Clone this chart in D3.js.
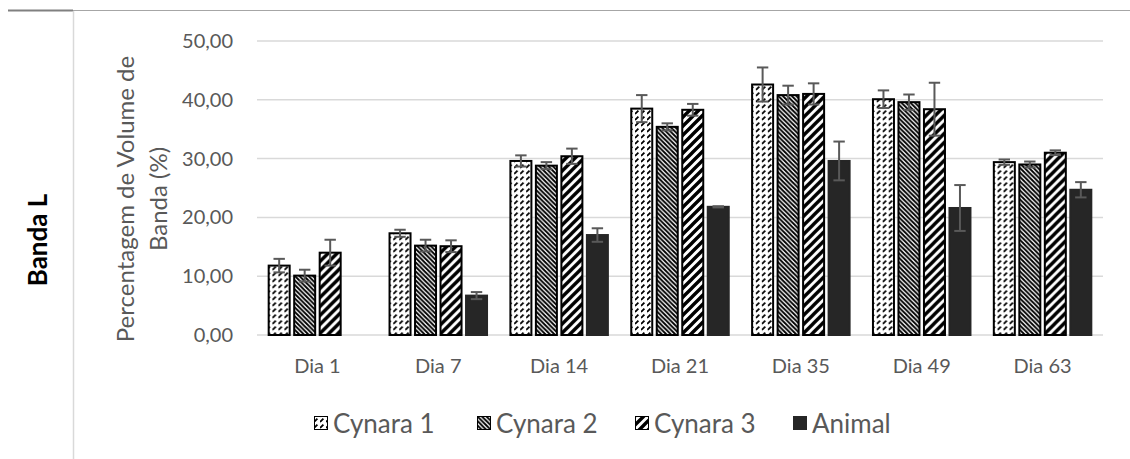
<!DOCTYPE html>
<html>
<head>
<meta charset="utf-8">
<script src="https://cdn.jsdelivr.net/npm/d3@7"></script>
<style>
  body { margin: 0; background: #fff; }
  svg { display: block; }
</style>
</head>
<body>
<div id="viz"></div>
<script>
const days = ["Dia 1", "Dia 7", "Dia 14", "Dia 21", "Dia 35", "Dia 49", "Dia 63"];
const seriesNames = ["Cynara 1", "Cynara 2", "Cynara 3", "Animal"];

// means, one array per series (Animal has no value on Dia 1)
const cynara1 = [11.8, 17.3, 29.6, 38.5, 42.6, 40.1, 29.4];
const cynara2 = [10.1, 15.2, 28.8, 35.4, 40.8, 39.6, 29.0];
const cynara3 = [14.0, 15.1, 30.4, 38.3, 41.0, 38.4, 31.0];
const animal = [null, 6.7, 17.0, 21.8, 29.6, 21.6, 24.7];

// error (+/-)
const cynara1Err = [1.15, 0.6, 0.95, 2.3, 2.9, 1.5, 0.45];
const cynara2Err = [1.0, 1.0, 0.6, 0.6, 1.6, 1.3, 0.5];
const cynara3Err = [2.2, 1.0, 1.3, 1.0, 1.8, 4.5, 0.4];
const animalErr = [null, 0.6, 1.15, 0.1, 3.3, 3.9, 1.3];

const yTicks = [0, 10, 20, 30, 40, 50];

const width = 1130;
const height = 459;
const margin = { top: 41, right: 27, bottom: 124, left: 257 };
const textGray = "#595959";
const font = "Lato, 'Open Sans', sans-serif";

const svg = d3.select("#viz")
    .append("svg")
    .attr("width", width)
    .attr("height", height)
    .style("font-family", font);

//Patterns
const defs = svg.append("defs");

const p1 = defs.append("pattern").attr("id", "pat1").attr("patternUnits", "userSpaceOnUse")
    .attr("width", 6).attr("height", 6);
p1.append("rect").attr("width", 6).attr("height", 6).attr("fill", "#fff");
p1.append("path").attr("d", "M0,6 L3.4,2.6 M6,0 L6.5,-0.5 M-0.5,0.5 L0,0").attr("stroke", "#000").attr("stroke-width", 1.8);

const p2 = defs.append("pattern").attr("id", "pat2").attr("patternUnits", "userSpaceOnUse")
    .attr("width", 4.5).attr("height", 4.5);
p2.append("rect").attr("width", 4.5).attr("height", 4.5).attr("fill", "#fff");
p2.append("path").attr("d", "M-1,-1 L5.5,5.5 M-1,3.5 L1,5.5 M3.5,-1 L5.5,1").attr("stroke", "#000").attr("stroke-width", 1.9);

const p3 = defs.append("pattern").attr("id", "pat3").attr("patternUnits", "userSpaceOnUse")
    .attr("width", 9).attr("height", 9);
p3.append("rect").attr("width", 9).attr("height", 9).attr("fill", "#fff");
p3.append("path").attr("d", "M-1,10 L10,-1 M-2,2 L2,-2 M7,11 L11,7").attr("stroke", "#000").attr("stroke-width", 3.4);

const fills = ["url(#pat1)", "url(#pat2)", "url(#pat3)", "#262626"];
const strokes = ["#000", "#000", "#000", "#262626"];

const data = days.map((day, i) => ({
    day,
    values: [
        { s: 0, v: cynara1[i], e: cynara1Err[i] },
        { s: 1, v: cynara2[i], e: cynara2Err[i] },
        { s: 2, v: cynara3[i], e: cynara3Err[i] },
        { s: 3, v: animal[i], e: animalErr[i] }
    ]
}));

//Frame lines
svg.append("line").attr("x1", 8).attr("x2", 73).attr("y1", 10.5).attr("y2", 10.5)
    .attr("stroke", "#808080").attr("stroke-width", 2);
svg.append("line").attr("x1", 73).attr("x2", width).attr("y1", 10.5).attr("y2", 10.5)
    .attr("stroke", "#a6a6a6").attr("stroke-width", 1);
svg.append("line").attr("x1", 73.5).attr("x2", 73.5).attr("y1", 11).attr("y2", height)
    .attr("stroke", "#d9d9d9").attr("stroke-width", 1.5);

const x0 = d3.scaleBand()
    .domain(days)
    .range([margin.left, width - margin.right])
    .paddingInner(0.156)
    .paddingOuter(0.078);

const x1 = d3.scaleBand()
    .domain(d3.range(seriesNames.length))
    .range([0, x0.bandwidth()]);

const y = d3.scaleLinear()
    .domain([0, 50])
    .range([height - margin.bottom, margin.top]);

//Gridlines
svg.append("g")
    .selectAll("line")
    .data(yTicks)
    .join("line")
    .attr("x1", margin.left)
    .attr("x2", width - margin.right)
    .attr("y1", d => y(d))
    .attr("y2", d => y(d))
    .attr("stroke", "#d9d9d9")
    .attr("stroke-width", 1.5);

//Y axis
const fmt = d => d3.format(".2f")(d).replace(".", ",");
const yAxisG = svg.append("g")
    .attr("transform", `translate(${margin.left - 24},0)`)
    .call(d3.axisLeft(y).tickValues(yTicks).tickFormat(fmt).tickSize(0).tickPadding(0));
yAxisG.select(".domain").remove();
yAxisG.selectAll("text").attr("fill", textGray).style("font-size", "20px").style("font-family", font);

//X axis
const xAxisG = svg.append("g")
    .attr("transform", `translate(0,${height - margin.bottom})`)
    .call(d3.axisBottom(x0).tickSize(0).tickPadding(24));
xAxisG.select(".domain").remove();
xAxisG.selectAll("text").attr("fill", textGray).style("font-size", "20px").style("font-family", font);

//Bars
const groups = svg.append("g")
    .selectAll("g")
    .data(data)
    .join("g")
    .attr("transform", d => `translate(${x0(d.day)},0)`);

groups.selectAll("rect")
    .data(d => d.values.filter(v => v.v != null))
    .join("rect")
    .attr("x", d => x1(d.s) + 2.25)
    .attr("width", x1.bandwidth() - 4.5)
    .attr("y", d => y(d.v))
    .attr("height", d => y(0) - y(d.v))
    .attr("fill", d => fills[d.s])
    .attr("stroke", d => strokes[d.s])
    .attr("stroke-width", 2);

//Error bars
const err = groups.selectAll("g.err")
    .data(d => d.values.filter(v => v.v != null))
    .join("g")
    .attr("class", "err")
    .attr("stroke", "#595959")
    .attr("stroke-width", 2);

err.append("line")
    .attr("x1", d => x1(d.s) + x1.bandwidth() / 2)
    .attr("x2", d => x1(d.s) + x1.bandwidth() / 2)
    .attr("y1", d => y(d.v + d.e))
    .attr("y2", d => y(d.v - d.e));
err.selectAll("line.cap")
    .data(d => [[d, d.v + d.e], [d, d.v - d.e]])
    .join("line")
    .attr("class", "cap")
    .attr("x1", d => x1(d[0].s) + x1.bandwidth() / 2 - 5.7)
    .attr("x2", d => x1(d[0].s) + x1.bandwidth() / 2 + 5.7)
    .attr("y1", d => y(d[1]))
    .attr("y2", d => y(d[1]));

//Y axis title
const yTitle = svg.append("text")
    .attr("transform", "translate(134,199) rotate(-90)")
    .attr("text-anchor", "middle")
    .attr("fill", textGray)
    .style("font-size", "24px");
yTitle.append("tspan").attr("x", 0).attr("dy", 0).text("Percentagem de Volume de");
yTitle.append("tspan").attr("x", 0).attr("dy", 33).text("Banda (%)");

//Side label
svg.append("text")
    .attr("transform", "translate(47,240) rotate(-90)")
    .attr("text-anchor", "middle")
    .attr("fill", "#000")
    .attr("font-weight", 700)
    .style("font-size", "26px")
    .text("Banda L");

//Legend
const legendX = [314, 477, 635, 793];
const legend = svg.append("g")
    .selectAll("g")
    .data(seriesNames)
    .join("g")
    .attr("transform", (d, i) => `translate(${legendX[i]},416)`);

legend.append("rect")
    .attr("x", 0.5)
    .attr("y", 0.5)
    .attr("width", 13)
    .attr("height", 13)
    .attr("fill", (d, i) => fills[i])
    .attr("stroke", (d, i) => strokes[i])
    .attr("stroke-width", 1);

legend.append("text")
    .attr("x", 19)
    .attr("y", 7.5)
    .attr("dy", "0.35em")
    .attr("fill", textGray)
    .style("font-size", "26px")
    .text(d => d);
</script>
</body>
</html>
